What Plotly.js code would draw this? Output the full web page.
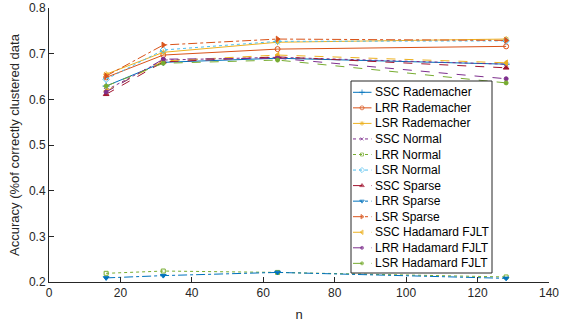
<!DOCTYPE html>
<html><head><meta charset="utf-8">
<script src="https://cdn.plot.ly/plotly-3.0.1.min.js"></script>
<style>html,body{margin:0;padding:0;background:#fff}#c{width:562px;height:324px}</style>
</head><body><div id="c"></div>
<script>
const n = [16, 32, 64, 128];
const names = ["SSC Rademacher","LRR Rademacher","LSR Rademacher","SSC Normal","LRR Normal","LSR Normal","SSC Sparse","LRR Sparse","LSR Sparse","SSC Hadamard FJLT","LRR Hadamard FJLT","LSR Hadamard FJLT"];
const sscRademacher = [0.629, 0.681, 0.690, 0.677];
const lrrRademacher = [0.648, 0.697, 0.710, 0.716];
const lsrRademacher = [0.655, 0.703, 0.725, 0.732];
const sscNormal = [0.620, 0.686, 0.692, 0.677];
const lrrNormal = [0.219, 0.224, 0.221, 0.211];
const lsrNormal = [0.644, 0.708, 0.727, 0.728];
const sscSparse = [0.611, 0.682, 0.693, 0.669];
const lrrSparse = [0.209, 0.214, 0.221, 0.208];
const lsrSparse = [0.651, 0.719, 0.732, 0.729];
const sscHadamard = [0.618, 0.684, 0.697, 0.680];
const lrrHadamard = [0.616, 0.688, 0.690, 0.645];
const lsrHadamard = [0.629, 0.679, 0.686, 0.636];
const series = [sscRademacher, lrrRademacher, lsrRademacher, sscNormal, lrrNormal, lsrNormal, sscSparse, lrrSparse, lsrSparse, sscHadamard, lrrHadamard, lsrHadamard];

const colors = ["#0072BD","#D95319","#EDB120","#7E2F8E","#77AC30","#4DBEEE","#A2142F","#0072BD","#D95319","#EDB120","#7E2F8E","#77AC30"];
const dashes = ["solid","solid","solid","dot","dot","dot","dash","dashdot","dashdot","dash","dash","dash"];
const symbols = ["cross-thin-open","circle-open","asterisk-open","x-thin-open","square-open","diamond-open","triangle-up","triangle-down","triangle-right","triangle-left","circle","circle"];
const sizes = [5,5,5,4,4,5,5,5,5,5,4,4];

const traces = series.map((v,i)=>({
  x: n, y: v, name: names[i], type:'scatter', mode:'lines+markers', showlegend:false,
  line:{color:colors[i], width:1, dash:dashes[i]},
  marker:{symbol:symbols[i], size:sizes[i], color:colors[i], line:{color:colors[i], width:1}}
}));

// custom legend (MATLAB-like compact spacing) on an overlay axis spanning the plot area
const plotTop = 8, plotBottom = 282, plotLeft = 49, plotW = 500;
const py = p => (plotBottom - p) / (plotBottom - plotTop);
const px = p => (p - plotLeft) / plotW;
const box = {x0: px(351), x1: px(492), y0: py(273), y1: py(81)};
traces.push({
  x:[box.x0, box.x1, box.x1, box.x0, box.x0], y:[box.y0, box.y0, box.y1, box.y1, box.y0],
  xaxis:'x2', yaxis:'y2', type:'scatter', mode:'lines', fill:'toself', fillcolor:'#ffffff',
  line:{color:'#262626', width:1}, showlegend:false, hoverinfo:'skip'
});
const annotations = [];
names.forEach((nm,i)=>{
  const yy = py(92.3 + 15.55*i);
  traces.push({
    x:[px(353), px(362), px(371.5)], y:[yy,yy,yy], xaxis:'x2', yaxis:'y2', type:'scatter', mode:'lines+markers',
    line:{color:colors[i], width:1, dash:dashes[i]},
    marker:{symbol:symbols[i], size:[0,Math.max(3,sizes[i]-1),0], color:colors[i], line:{color:colors[i], width:1}},
    showlegend:false, hoverinfo:'skip', cliponaxis:false
  });
  annotations.push({xref:'x2', yref:'y2', x:px(373), y:yy, xanchor:'left', yanchor:'middle', text:nm, showarrow:false, font:{size:12, color:'#000'}});
});

const layout = {
  width:562, height:324,
  margin:{l:49, r:13, t:8, b:42},
  paper_bgcolor:'#fff', plot_bgcolor:'#fff',
  font:{family:'Liberation Sans, Arial, sans-serif', color:'#262626', size:12},
  showlegend:false,
  annotations: annotations,
  xaxis:{range:[0,140], tickvals:[0,20,40,60,80,100,120,140], ticks:'inside', ticklen:5, tickcolor:'#262626', showline:true, linecolor:'#262626', linewidth:1, showgrid:false, zeroline:false, automargin:false, title:{text:'n', font:{size:13}, standoff:10}},
  yaxis:{range:[0.2,0.8], tickvals:[0.2,0.3,0.4,0.5,0.6,0.7,0.8], ticktext:['0.2','0.3','0.4','0.5','0.6','0.7','0.8'], ticks:'inside', ticklen:5, tickcolor:'#262626', showline:true, linecolor:'#262626', linewidth:1, showgrid:false, zeroline:false, automargin:false, title:{text:'Accuracy (%of correctly clustered data', font:{size:13}, standoff:6}},
  xaxis2:{overlaying:'x', range:[0,1], visible:false, fixedrange:true},
  yaxis2:{overlaying:'y', range:[0,1], visible:false, fixedrange:true}
};
Plotly.newPlot('c', traces, layout, {displayModeBar:false, staticPlot:true});
</script></body></html>
